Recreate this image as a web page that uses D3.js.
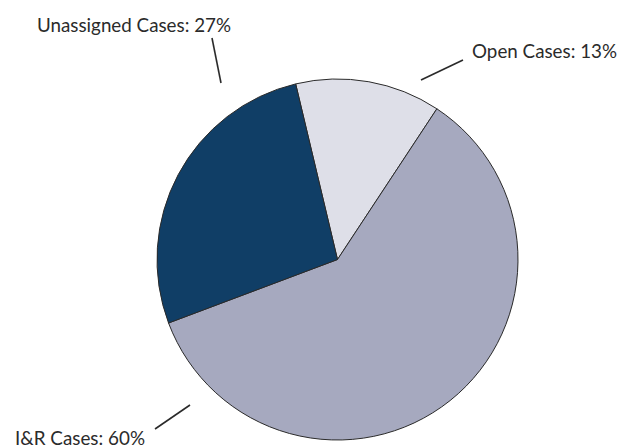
<!DOCTYPE html>
<html>
<head>
<meta charset="utf-8">
<script src="https://cdn.jsdelivr.net/npm/d3@7"></script>
<style>
  html, body { margin: 0; padding: 0; background: #fff; }
  svg { display: block; }
</style>
</head>
<body>
<svg id="chart" width="621" height="448"></svg>
<script>
// Data
const categories = ["Open Cases", "I&R Cases", "Unassigned Cases"];
const values = [13, 60, 27];
const labels = ["Open Cases: 13%", "I&R Cases: 60%", "Unassigned Cases: 27%"];
const colors = ["#dedfe8", "#a6a9bf", "#103e66"];

const svg = d3.select("#chart");
const cx = 337.5, cy = 259.5, r = 180.5;
const startDeg = -13.4;

const pie = d3.pie().sort(null).value(d => d)
  .startAngle(startDeg * Math.PI / 180)
  .endAngle((startDeg + 360) * Math.PI / 180);
const arcs = pie(values);
const arc = d3.arc().innerRadius(0).outerRadius(r);

const g = svg.append("g").attr("transform", `translate(${cx},${cy})`);
g.selectAll("path").data(arcs).join("path")
  .attr("d", arc)
  .attr("fill", (d, i) => colors[i])
  .attr("stroke", "#2a2a2a")
  .attr("stroke-width", 1);

// Leader lines and labels (positioned per slice)
const layout = [
  { line: [[421, 80], [463, 60]], text: [472, 58], width: 145 },
  { line: [[190, 405], [155, 429]], text: [15, 445], width: 130 },
  { line: [[221, 83], [212, 38]], text: [37, 32], width: 194 }
];

layout.forEach((L, i) => {
  svg.append("line")
    .attr("x1", L.line[0][0]).attr("y1", L.line[0][1])
    .attr("x2", L.line[1][0]).attr("y2", L.line[1][1])
    .attr("stroke", "#2a2a2a").attr("stroke-width", 1.6);
  svg.append("text")
    .attr("x", L.text[0]).attr("y", L.text[1])
    .attr("font-family", "Lato, 'Open Sans', sans-serif")
    .attr("font-size", 19)
    .attr("fill", "#2b2b2b")
    .attr("textLength", L.width)
    .attr("lengthAdjust", "spacingAndGlyphs")
    .text(labels[i]);
});
</script>
</body>
</html>
